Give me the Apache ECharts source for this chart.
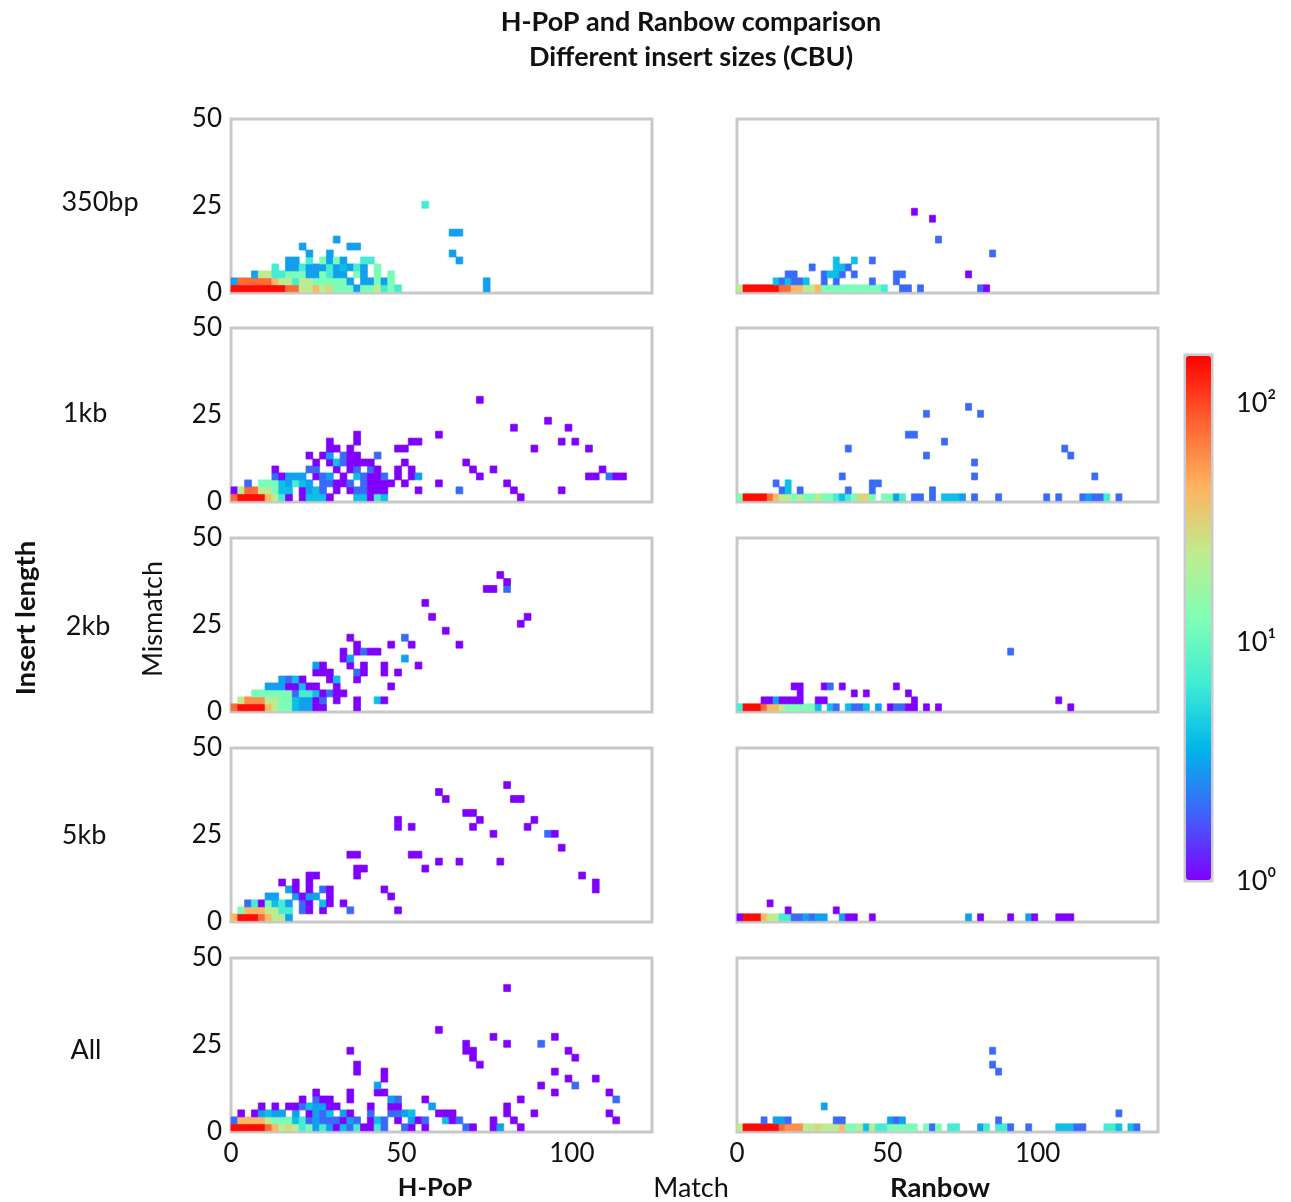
<!DOCTYPE html>
<html><head><meta charset="utf-8">
<script src="https://cdn.jsdelivr.net/npm/echarts@6/dist/echarts.min.js"></script>
<style>html,body{margin:0;padding:0;background:#fff}#c{width:1291px;height:1202px}</style>
</head><body><div id="c"></div>
<script>
// Each panel: rows of 2-mismatch bins (bottom up); each row holds runs [first 2-match bin, count, count, ...]
const hpop350 = [
 [[0,150,150,150,150,150,150,150,150,80,80,23,23,43,23,30,12,12,12,3,12,12,23,7,12,7],[37,3]],
 [[0,3,80,80,80,80,80,43,23,23,7,23,23,12,12,12,12,12,3],[19,3,3,12,3,12],[37,3]],
 [[3,3,23,23,7,7,12,12,12,3,3,12,7,3,3],[18,12,3],[21,12],[23,12]],
 [[6,7],[8,3,3,7,3,3,3,7,3,4,3,7,3],[21,12]],
 [[8,3,3],[11,7],[13,12,3,12,3],[19,7,7],[33,3]],
 [[11,3],[14,3],[32,3]],
 [[10,3],[17,3,3]],
 [[15,3]],
 [[32,3,3]],
 [],[],[],
 [[28,7]]
];
const rainbow350 = [
 [[0,23,150,150,150,150,150,150,80,80,43,43,23,23,43,12,12,12,12,12,12,12,12,12,12,7],[27,2,2],[30,2],[40,2,1]],
 [[6,4,2,4,2,2,4],[14,2],[16,2],[22,2],[26,2]],
 [[8,2,2],[14,2,4,4,2],[19,2],[26,2,2],[38,1]],
 [[12,2],[16,4,4,2]],
 [[16,4],[19,4],[22,2]],
 [[42,2]],
 [],
 [[33,2]],
 [],[],
 [[32,1]],
 [[29,1]]
];
const hpop1kb = [
 [[0,80,150,150,150,150,43,23,7,1],[10,1,4,4,4,1],[18,4,4,1,7,4],[42,1]],
 [[0,1,23,80,80,23,23,12,4,4],[10,1,3,4,2],[15,1],[17,1,2,2,1,1,1],[27,1],[33,2],[41,1],[48,1]],
 [[2,2],[4,12,12,12,4,3,7,4,3],[13,2,2,1,1,2],[19,2,1,1,1,1],[25,1],[30,1],[40,1]],
 [[6,2,1,3,3,3],[12,1,2,3],[16,1],[18,4,2,1,1,2],[24,1],[26,1,3],[36,1],[52,1,1],[55,2,1,1]],
 [[6,1],[11,2,2],[15,1],[17,1,2],[20,2,1],[24,1],[26,1],[35,1],[38,1],[54,1]],
 [[12,1],[14,1,4,2,1,1,1,1],[25,1],[34,1]],
 [[11,1],[13,1,3],[16,2,1,1],[21,2]],
 [[14,1,1],[17,1],[24,1,1],[44,1],[52,1]],
 [[14,1],[18,1],[26,1,1],[48,1],[50,1]],
 [[18,1],[30,1]],
 [[41,1],[49,1]],
 [[46,1]],
 [],[],
 [[36,1]]
];
const rainbow1kb = [
 [[0,12,150,150,150,150,80,43,23,23,12,23,12,12,23,12,12,7,4,7,12,30,30,12],[24,12,12,3,7],[29,2,2],[32,2],[34,4,4,4,3],[39,2],[43,2],[51,2],[53,2],[57,2,3,2,2,7],[63,2]],
 [[7,2,4],[10,2],[18,2],[22,2],[32,2]],
 [[6,2],[8,4],[22,2,2]],
 [[17,2],[39,2],[59,2]],
 [],
 [[39,2]],
 [[31,2],[55,2]],
 [[18,2],[54,2]],
 [[34,2]],
 [[28,2,2]],
 [],[],
 [[31,2],[40,2]],
 [[38,2]]
];
const hpop2kb = [
 [[0,80,150,150,150,150,43,23,12,12,4,3,3,1,1],[18,1]],
 [[1,23,60,60,60,23,23,12,12,4,3,3,1,2],[15,1],[18,1],[21,4,1]],
 [[3,12,12,12,12,12,12,2,7,7,4,1,2,1,1]],
 [[5,3,3,3,1,1,4,1,1],[15,1],[23,1]],
 [[7,3,2,4,1],[14,1,4],[18,1]],
 [[12,1,1,1],[18,2,1],[22,1],[24,1]],
 [[12,3,1],[17,1],[19,1],[22,1],[27,1]],
 [[16,1,3],[25,3]],
 [[16,1],[18,1,2,1,1]],
 [[18,1],[23,1],[26,1],[33,1]],
 [[17,1],[25,2]],
 [[31,1]],
 [[42,1]],
 [[29,1],[43,1]],
 [],
 [[28,1]],
 [],
 [[37,1,1],[40,2]],
 [[40,1]],
 [[39,1]]
];
const rainbow2kb = [
 [[0,7,150,150,150,80,43,43,23,12,12,12,12,12,4],[15,4,2],[18,4,2,2,4],[23,3],[25,1,2,2,1,1],[31,1],[33,1],[55,1]],
 [[4,1,1,3,1,1,1,1],[13,1,1],[29,1],[53,1]],
 [[10,1],[19,1],[21,1],[28,1]],
 [[9,1,1],[14,1,2],[17,1],[26,1]],
 [],[],[],[],
 [[45,2]]
];
const hpop5kb = [
 [[0,43,150,150,150,80,43,23,23,3]],
 [[1,12,43,43,43,23,23,7,7],[10,2,1],[13,1],[17,2],[24,1]],
 [[2,2,7,1,12,4,7,3],[10,2,1],[13,4,1],[16,1]],
 [[5,3,3],[9,3,1,3,3],[14,1],[23,1]],
 [[8,3,1],[11,1],[13,2,1],[22,1],[53,1]],
 [[7,1],[9,1],[11,1],[53,1]],
 [[11,1,1],[18,1],[51,1]],
 [[18,1,1],[28,1]],
 [[30,1],[33,1],[39,1]],
 [[17,1,1],[26,1,1]],
 [[48,1]],
 [],
 [[38,1],[46,2,1]],
 [[24,1],[26,1],[35,1],[43,1]],
 [[24,1],[36,1],[44,1]],
 [[34,1,1]],
 [],
 [[31,1],[41,1,1]],
 [[30,1]],
 [[40,1]]
];
const rainbow5kb = [
 [[0,1,150,150,150,43,23,23,7,7,2,2,3,2,3,3],[17,3,1,1],[22,1],[38,3],[40,1],[45,1],[48,3,1],[53,1,1,1]],
 [[8,1],[16,1]],
 [[5,1]]
];
const hpopAll = [
 [[0,150,150,150,150,150,80,43,23,30,23,7,12,3,7,3,1,4,2,7,1,1,7,2],[25,2,1],[28,1],[34,2,1],[38,1,3],[42,1]],
 [[0,2,43,43,43,43,23,12,12,12,4,7,2,3,2,2,2,1,3,2],[20,1,4,2],[24,1],[26,3,1,2],[31,4,1,2],[38,1],[41,1],[56,1]],
 [[1,1],[3,1,3,4,3,3],[9,3],[11,1,3,2,4],[16,3,1],[20,2],[23,2,2,3,4],[30,1,1,1],[40,1],[44,1],[55,1]],
 [[4,1],[6,1],[8,1,1,2,4,3,3,1,1],[20,1],[23,1,1],[29,3],[40,1]],
 [[10,1],[12,2,1,1],[17,1],[23,3,2],[28,1],[42,1],[56,2]],
 [[12,1],[17,1],[21,1,1],[47,1],[55,1]],
 [[21,3],[45,1],[50,2]],
 [[22,1],[49,1],[53,1]],
 [[18,1],[22,1],[47,1]],
 [[18,1],[36,1]],
 [[35,1],[50,1]],
 [[17,1],[34,1,1],[49,1]],
 [[34,1],[40,1],[45,2]],
 [[38,1],[47,1]],
 [[30,1]],
 [],[],[],[],[],
 [[40,1]]
];
const rainbowAll = [
 [[0,23,150,150,150,150,150,150,80,60,60,60,23,23,30,23,23,23,43,12,12,23,4,23,7,7,12,12,12,12,12],[31,12,2,12],[35,7,7],[40,3,7],[43,7,7,2],[48,2],[53,4,4,4,2,2],[61,7,7,4],[65,4,2]],
 [[4,2],[6,3,3,2],[16,2,2],[25,3,2,3],[43,2]],
 [[63,2]],
 [[14,3]],
 [],[],[],[],
 [[43,2]],
 [[42,2]],
 [],
 [[42,2]]
];

const panelRows = [hpop350, rainbow350, hpop1kb, rainbow1kb, hpop2kb, rainbow2kb, hpop5kb, rainbow5kb, hpopAll, rainbowAll];
const insertLabels = ['350bp', '1kb', '2kb', '5kb', 'All'];
const xTicks = [0, 50, 100];
const colorBarMax = 160;
const rampColors = ['#8000ff','#4062fa','#00b5eb','#40ecd4','#80ffb4','#c0eb8d','#ffb360','#ff6230','#ff0000'];

const FONT = 'Lato, "Open Sans", sans-serif';
const BIN = 2, LIFT = 0.35;
const rowTops = [119, 328, 538, 748, 958];
const colLefts = [231, 737];
const colMax = [123.5, 140];
const GREY = '#c8c8c8';

const grid = [], xAxis = [], yAxis = [], series = [];
panelRows.forEach((rows, i) => {
  const c = i % 2, r = Math.floor(i / 2);
  grid.push({left: colLefts[c], top: rowTops[r], width: 421, height: 174, show: true,
    borderColor: GREY, borderWidth: 3, backgroundColor: '#fff'});
  xAxis.push({type: 'value', gridIndex: i, min: 0, max: colMax[c], splitLine: {show: false},
    axisLine: {show: false}, axisTick: {show: false},
    axisLabel: {show: r === 4, customValues: xTicks, fontFamily: FONT, fontSize: 26, color: '#111', margin: 9}});
  yAxis.push({type: 'value', gridIndex: i, min: 0, max: 50, interval: 25, splitLine: {show: false},
    axisLine: {show: false}, axisTick: {show: false},
    axisLabel: {show: c === 0, fontFamily: FONT, fontSize: 26, color: '#111', margin: 9, padding: [3, 0, 0, 0]}});
  const data = [];
  rows.forEach((row, y) => row.forEach(run => run.slice(1).forEach((n, j) => {
    data.push([(run[0] + j) * BIN, y * BIN, n, Math.log10(n)]);
  })));
  series.push({type: 'custom', xAxisIndex: i, yAxisIndex: i, data, silent: true,
    encode: {x: 0, y: 1}, clip: false,
    renderItem: (p, api) => {
      const x0 = api.value(0), y0 = api.value(1) + LIFT;
      const a = api.coord([x0, y0]), b = api.coord([x0 + BIN, y0 + BIN]);
      const color = api.visual('color');
      return {type: 'rect', shape: {x: a[0], y: b[1], width: b[0] - a[0], height: a[1] - b[1]},
        style: {fill: color, stroke: color, lineWidth: 0.7}};
    }});
});
// colour bar frame and its log axis
const cb = panelRows.length;
grid.push({left: 1185, top: 355, width: 27, height: 526, show: true, borderColor: '#c9c9d2', borderWidth: 3, backgroundColor: '#fff'});
xAxis.push({type: 'value', gridIndex: cb, show: false});
yAxis.push({type: 'log', gridIndex: cb, position: 'right', min: 1, max: colorBarMax, logBase: 10,
  splitLine: {show: false}, axisLine: {show: false}, axisTick: {show: false}, minorTick: {show: false},
  axisLabel: {margin: 24, fontFamily: FONT, fontSize: 27, color: '#111',
    formatter: v => ({1: '10⁰', 10: '10¹', 100: '10²'}[v] || '')}});

const tx = (x, y, text, o = {}) => ({type: 'text', x, y, rotation: o.rot || 0, z: 10, style: {
  text, fontFamily: FONT, fontSize: o.size || 27, fontWeight: o.bold ? 'bold' : 'normal', fill: '#111', align: 'center', verticalAlign: 'middle'}});
const labelYs = [202, 413, 626, 835, 1050], labelXs = [100, 85, 88, 84, 86];
const graphic = insertLabels.map((t, i) => tx(labelXs[i], labelYs[i], t));
graphic.push(tx(26, 618, 'Insert length', {bold: true, rot: Math.PI / 2, size: 27.5}));
graphic.push(tx(153, 619, 'Mismatch', {rot: Math.PI / 2}));
graphic.push(tx(435, 1188, 'H-PoP', {bold: true, size: 25.5}));
graphic.push(tx(691, 1188, 'Match'));
graphic.push(tx(940, 1188, 'Ranbow', {bold: true, size: 27.5}));
graphic.push(tx(691, 22, 'H-PoP and Ranbow comparison', {bold: true}));
graphic.push(tx(691, 57, 'Different insert sizes (CBU)', {bold: true}));

const chart = echarts.init(document.getElementById('c'), null, {renderer: 'canvas'});
chart.setOption({
  animation: false, backgroundColor: '#fff', grid, xAxis, yAxis, series, graphic,
  visualMap: {type: 'continuous', min: 0, max: Math.log10(colorBarMax), dimension: 3,
    seriesIndex: series.map((s, i) => i), inRange: {color: rampColors},
    left: 1186, top: 356, itemWidth: 25, itemHeight: 524, text: null, showLabel: false, calculable: false,
    hoverLink: false, realtime: false, padding: 0, textStyle: {fontSize: 0}, formatter: () => '', z: 5}
});
</script>
</body></html>
